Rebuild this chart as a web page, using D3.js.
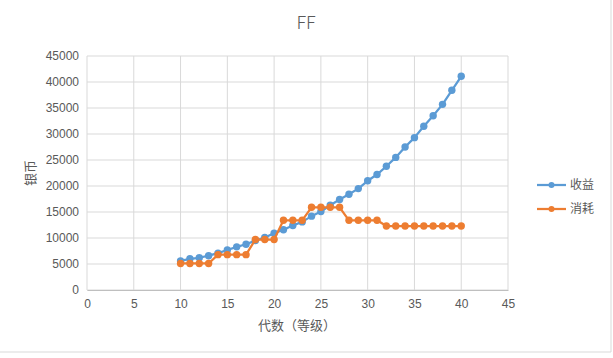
<!DOCTYPE html>
<html>
<head>
<meta charset="utf-8">
<script src="https://d3js.org/d3.v7.min.js"></script>
<style>
  body { margin: 0; background: #fff; font-family: "Noto Sans CJK SC", "Noto Sans", sans-serif; }
  .grid line { stroke: #d9d9d9; stroke-width: 1; }
  .axis text { fill: #595959; font-size: 12px; }
</style>
</head>
<body>
<div id="viz"></div>
<script>
// level (x) values
const levels = d3.range(10, 41);
// 收益
const income = [5600, 6000, 6200, 6600, 7100, 7700, 8300, 8800, 9500, 10100,
  10900, 11600, 12400, 13100, 14200, 15100, 16300, 17400, 18400, 19500,
  21000, 22200, 23800, 25500, 27500, 29300, 31500, 33500, 35700, 38400, 41100];
// 消耗
const cost = [5100, 5100, 5100, 5100, 6800, 6800, 6800, 6800, 9700, 9700,
  9700, 13400, 13400, 13400, 15900, 15900, 15900, 15900, 13400, 13400,
  13400, 13400, 12300, 12300, 12300, 12300, 12300, 12300, 12300, 12300, 12300];

const xTicks = [0, 5, 10, 15, 20, 25, 30, 35, 40, 45];
const yTicks = [0, 5000, 10000, 15000, 20000, 25000, 30000, 35000, 40000, 45000];

const series = [
  { name: "收益", values: income, color: "#5b9bd5" },
  { name: "消耗", values: cost, color: "#ed7d31" }
];

const W = 613, H = 358;
const plot = { left: 87, right: 508, top: 56, bottom: 290 };

const svg = d3.select("#viz").append("svg")
  .attr("width", W).attr("height", H);

// chart border edges
svg.append("line").attr("x1", 611).attr("x2", 611).attr("y1", 0).attr("y2", 352)
  .attr("stroke", "#d9d9d9");
svg.append("line").attr("x1", 0).attr("x2", 611).attr("y1", 352).attr("y2", 352)
  .attr("stroke", "#d9d9d9");

const x = d3.scaleLinear().domain([0, 45]).range([plot.left, plot.right]);
const y = d3.scaleLinear().domain([0, 45000]).range([plot.bottom, plot.top]);

// gridlines
svg.append("g").attr("class", "grid")
  .selectAll("line").data(yTicks).enter().append("line")
  .attr("x1", plot.left).attr("x2", plot.right)
  .attr("y1", d => y(d)).attr("y2", d => y(d));
svg.append("g").attr("class", "grid")
  .selectAll("line").data(xTicks).enter().append("line")
  .attr("y1", plot.top).attr("y2", plot.bottom)
  .attr("x1", d => x(d)).attr("x2", d => x(d));

// axes
svg.append("g").attr("class", "axis")
  .attr("transform", `translate(${plot.left},0)`)
  .call(d3.axisLeft(y).tickValues(yTicks).tickFormat(d3.format("d")).tickSize(0).tickPadding(8))
  .call(g => g.select(".domain").remove());
svg.append("g").attr("class", "axis")
  .attr("transform", `translate(0,${plot.bottom})`)
  .call(d3.axisBottom(x).tickValues(xTicks).tickSize(0).tickPadding(9))
  .call(g => g.select(".domain").attr("stroke", "#bfbfbf"));

// lines and markers
const line = d3.line().x((d, i) => x(levels[i])).y(d => y(d));
series.forEach(s => {
  svg.append("path").datum(s.values)
    .attr("fill", "none").attr("stroke", s.color)
    .attr("stroke-width", 2.25).attr("stroke-linejoin", "round")
    .attr("d", line);
  svg.append("g").selectAll("circle").data(s.values).enter().append("circle")
    .attr("cx", (d, i) => x(levels[i])).attr("cy", d => y(d))
    .attr("r", 3.7).attr("fill", s.color);
});

// title
svg.append("text").attr("x", 306).attr("y", 29)
  .attr("text-anchor", "middle").attr("fill", "#595959")
  .style("font-size", "18px").style("font-weight", 300).text("FF");

// axis titles
svg.append("text").attr("x", 297).attr("y", 330)
  .attr("text-anchor", "middle").attr("fill", "#595959")
  .style("font-size", "13px").text("代数（等级）");
svg.append("text")
  .attr("transform", `translate(35,${(plot.top + plot.bottom) / 2}) rotate(-90)`)
  .attr("text-anchor", "middle").attr("fill", "#595959")
  .style("font-size", "13px").text("银币");

// legend
const legend = svg.append("g").selectAll("g").data(series).enter().append("g")
  .attr("transform", (d, i) => `translate(537,${185 + i * 24})`);
legend.append("line").attr("x1", 0).attr("x2", 29)
  .attr("stroke", d => d.color).attr("stroke-width", 2.25);
legend.append("circle").attr("cx", 14.5).attr("r", 3).attr("fill", d => d.color);
legend.append("text").attr("x", 33).attr("dy", "0.35em")
  .attr("fill", "#595959").style("font-size", "12px").text(d => d.name);
</script>
</body>
</html>
